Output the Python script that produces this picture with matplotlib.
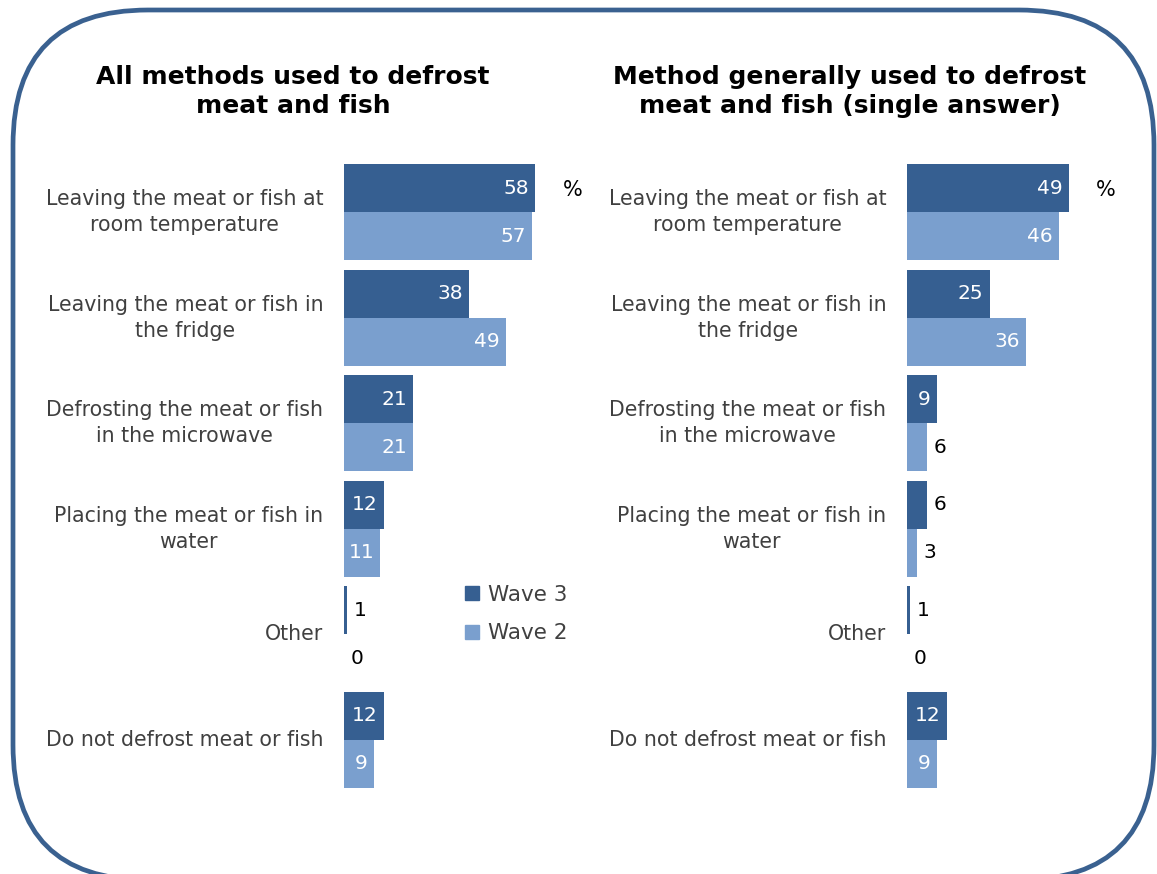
import matplotlib.pyplot as plt
import matplotlib.patches as mpatches
import matplotlib.transforms as mtransforms
from matplotlib.lines import Line2D
import numpy as np

methods = [
    "Leaving the meat or fish at\nroom temperature",
    "Leaving the meat or fish in\nthe fridge",
    "Defrosting the meat or fish\nin the microwave",
    "Placing the meat or fish in\nwater",
    "Other",
    "Do not defrost meat or fish",
]
waves = ["Wave 3", "Wave 2"]

all_wave3 = [58, 38, 21, 12, 1, 12]
all_wave2 = [57, 49, 21, 11, 0, 9]
main_wave3 = [49, 25, 9, 6, 1, 12]
main_wave2 = [46, 36, 6, 3, 0, 9]

titles = ["All methods used to defrost\nmeat and fish",
          "Method generally used to defrost\nmeat and fish (single answer)"]

DARK = "#365F91"
LIGHT = "#7A9FCE"
GREY = "#404040"

W, H = 1157, 874
fig = plt.figure(figsize=(W / 100, H / 100), dpi=100)


def px_axes(x0, top, w, h):
    return fig.add_axes([x0 / W, 1 - (top + h) / H, w / W, h / H])


def label_bars(ax, bars, values):
    for rect, v in zip(bars, values):
        yc = rect.get_y() + rect.get_height() / 2
        if v >= 7:
            ax.annotate(str(v), xy=(v, yc), xytext=(-6, 0), textcoords="offset pixels",
                        ha="right", va="center", color="white", fontsize=14.5)
        else:
            ax.annotate(str(v), xy=(v, yc), xytext=(7, 0), textcoords="offset pixels",
                        ha="left", va="center", color="black", fontsize=14.5)


def draw_panel(ax, wave3, wave2, title, title_x):
    y = np.arange(len(methods))
    h = 0.455
    b3 = ax.barh(y - h / 2, wave3, height=h, color=DARK, label=waves[0])
    b2 = ax.barh(y + h / 2, wave2, height=h, color=LIGHT, label=waves[1])
    ax.set_xlim(0, 70)
    ax.set_ylim(len(methods) - 0.5, -0.5)
    ax.set_yticks(y)
    ax.set_yticklabels(methods, fontsize=14.8, color=GREY)
    for t in ax.get_yticklabels():
        t.set_multialignment("center")
        t.set_verticalalignment("center")
        t.set_linespacing(1.36)
    ax.tick_params(axis="y", length=0, pad=15)
    ax.set_xticks([])
    for s in ax.spines.values():
        s.set_visible(False)
    ax.patch.set_alpha(0)
    label_bars(ax, b3, wave3)
    label_bars(ax, b2, wave2)
    # percent sign beside the top bar
    ax.annotate("%", xy=(wave3[0], -h / 2), xytext=(37, -2), textcoords="offset pixels",
                ha="center", va="center", fontsize=15, color="black")
    fig.text(title_x / W, 1 - 91.5 / H, title, ha="center", va="center",
             fontsize=18, fontweight="bold", color="black", linespacing=1.24)
    return b3, b2


top, height = 159.25, 633.5
ax1 = px_axes(344, top, 231, height)
ax2 = px_axes(907, top, 231, height)
draw_panel(ax1, all_wave3, all_wave2, titles[0], 293)
draw_panel(ax2, main_wave3, main_wave2, titles[1], 850)

handles = [Line2D([], [], marker="s", ls="", color=c, markersize=9.5) for c in (DARK, LIGHT)]
fig.legend(handles, waves, loc="center left", bbox_to_anchor=(463 / W, 1 - 614 / H),
           frameon=False, fontsize=15.5, borderpad=0, borderaxespad=0,
           handlelength=0.8, handletextpad=0.35, labelspacing=0.85, labelcolor=GREY)

# rounded frame around both panels, bottom edge runs just off the canvas
frame = mpatches.FancyBboxPatch((13, -6), 1141, 870,
                                boxstyle="round,pad=0,rounding_size=135",
                                transform=mtransforms.IdentityTransform(),
                                facecolor="none", edgecolor="#3A6190", linewidth=3.4,
                                clip_on=False)
fig.add_artist(frame)

fig.savefig("out.png", dpi=100)
